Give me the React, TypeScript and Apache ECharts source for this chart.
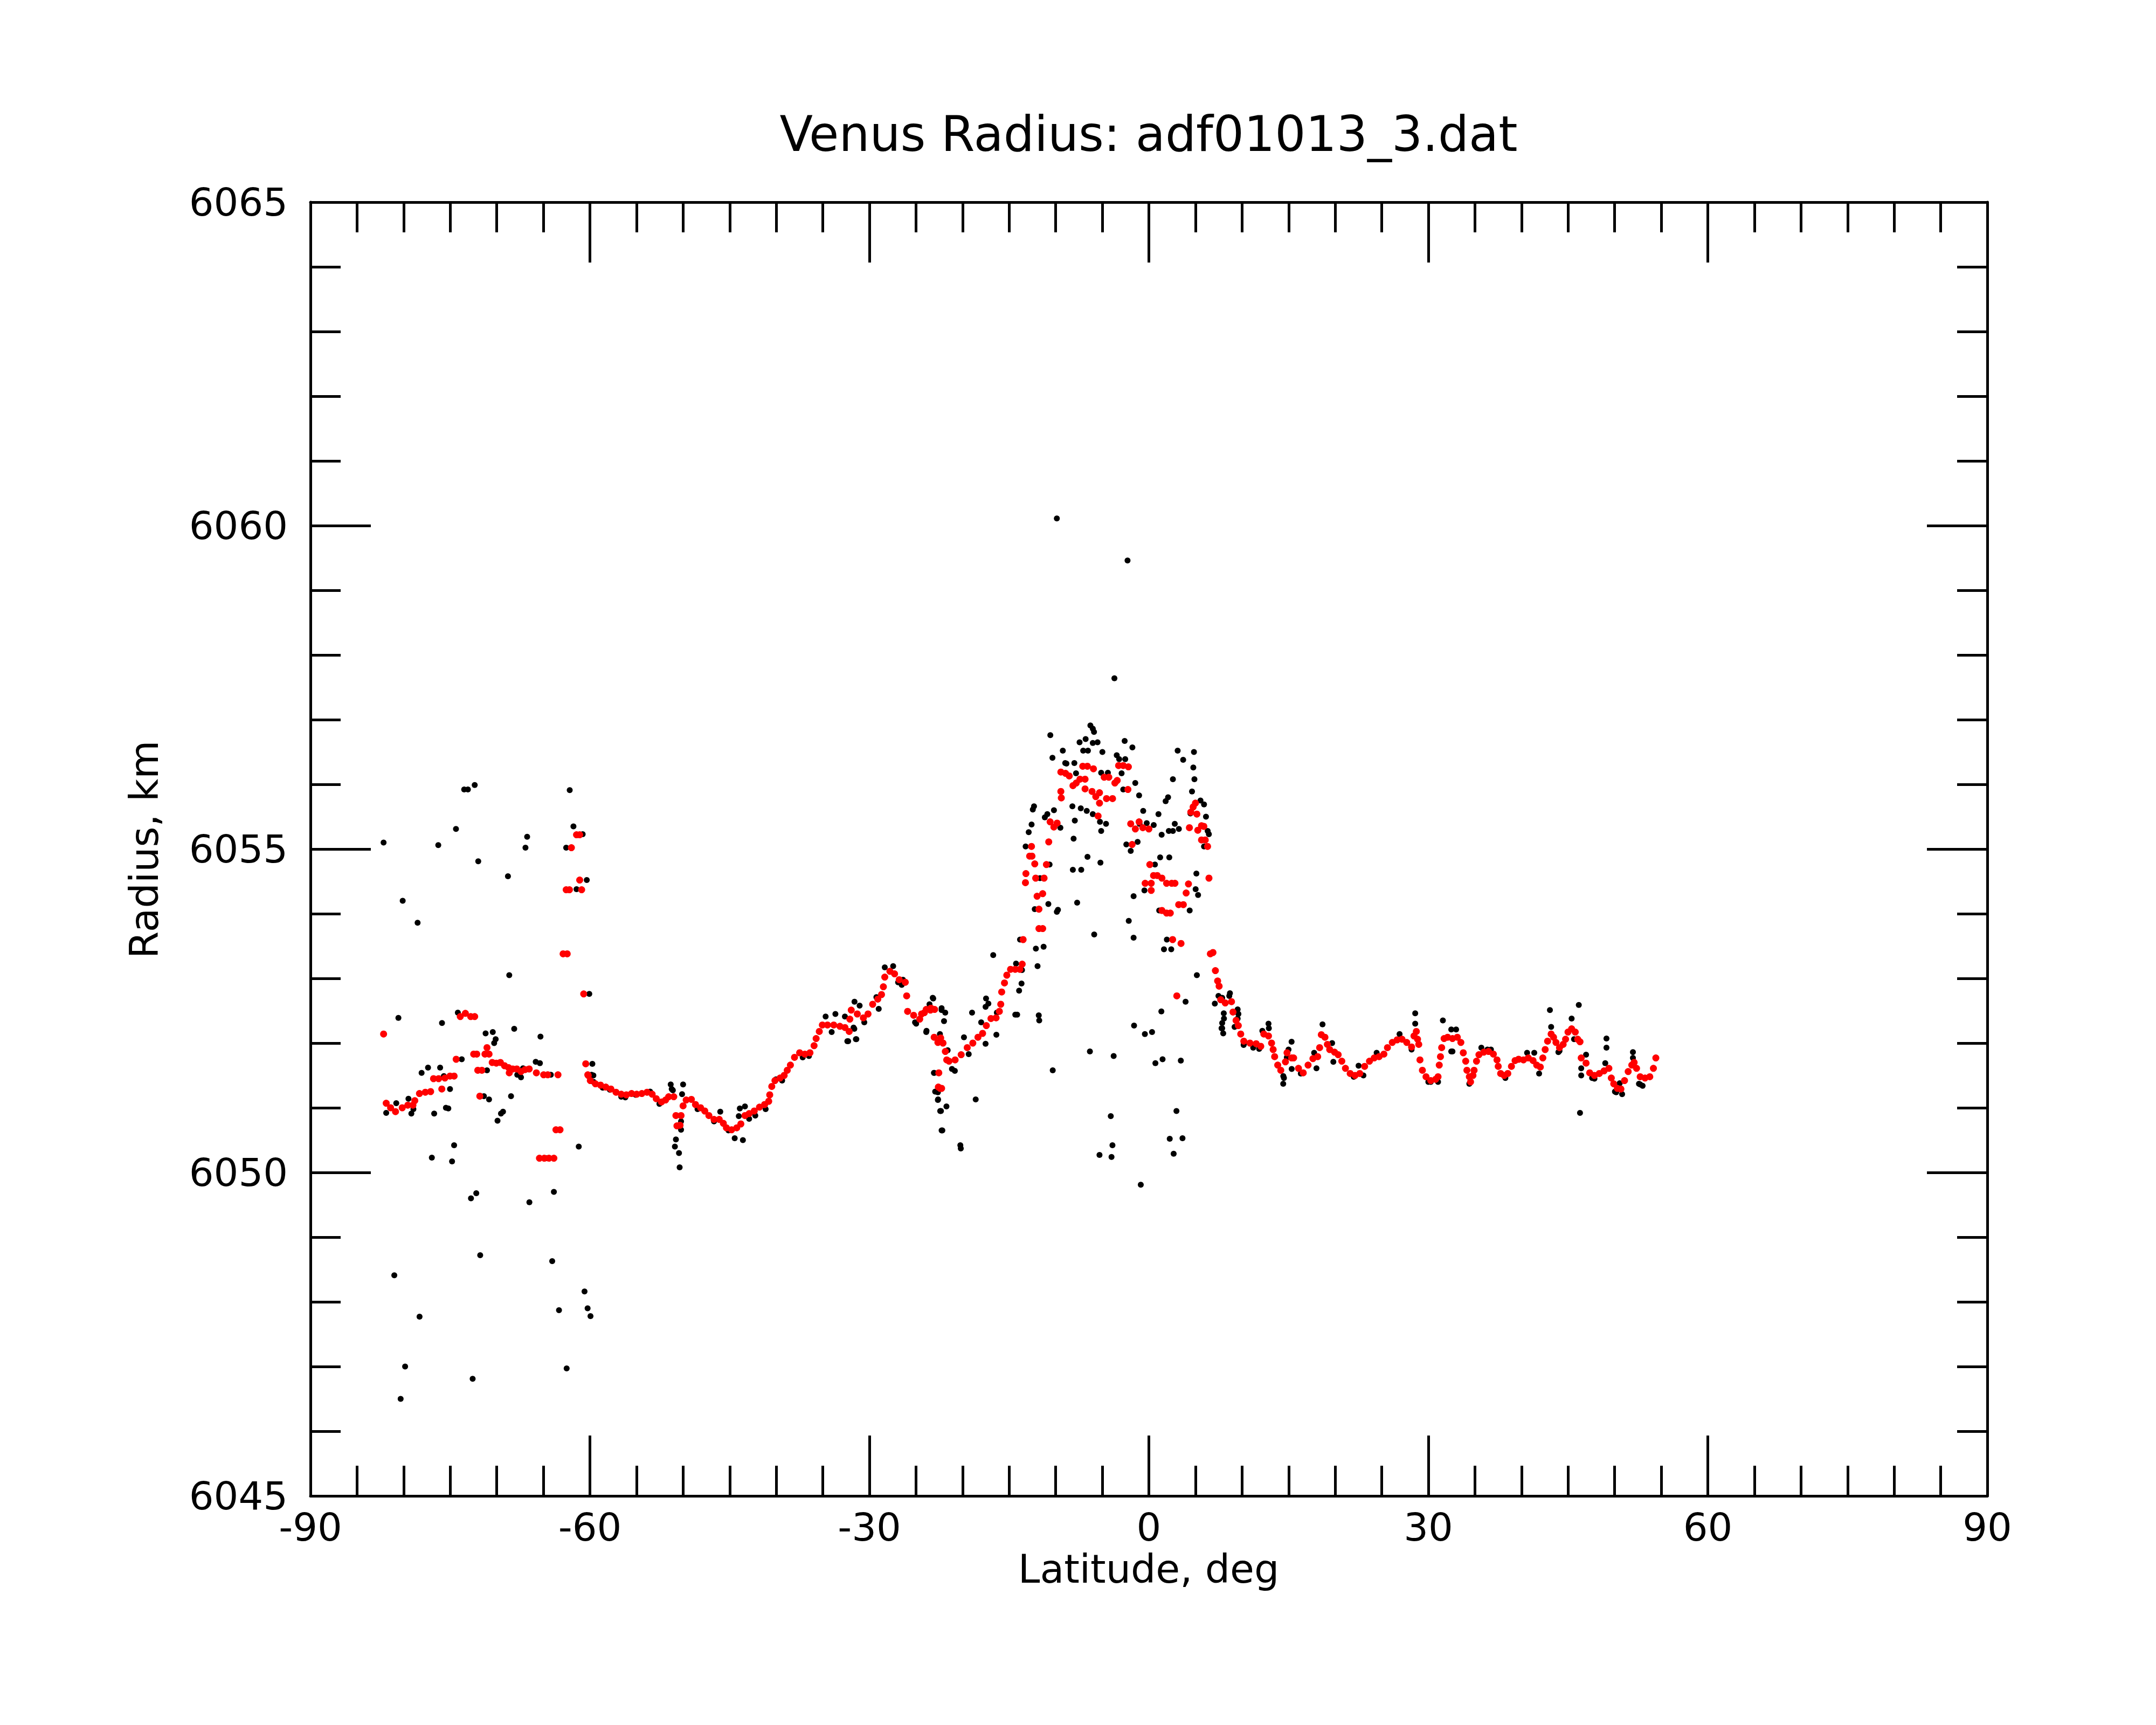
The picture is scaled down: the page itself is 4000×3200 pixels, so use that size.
import React, { useEffect, useRef } from "react";
import * as echarts from "echarts";

const chartTitle = "Venus Radius: adf01013_3.dat";
const xAxisName = "Latitude, deg";
const yAxisName = "Radius, km";
const latMin = -90, latMax = 90, latStep = 30, latMinorSplit = 6;
const radMin = 6045, radMax = 6065, radStep = 5, radMinorSplit = 5;

// red (smoothed) points: [latitude, radius]
const redSouth: number[][] = [
  [-82.15,6052.14],[-81.87,6051.07],[-81.4,6051.0],[-80.87,6050.94],[-80.15,6051.0],[-79.55,6051.04],[-79.0,6051.04],[-78.8,6051.11],[-78.3,6051.22],[-77.67,6051.24],[-77.1,6051.25],[-76.79,6051.45],[-76.24,6051.45],[-75.9,6051.29],[-75.57,6051.46],[-75.02,6051.49],[-74.58,6051.49],[-74.36,6051.75],[-73.92,6052.41],[-73.37,6052.46],[-72.8,6052.41],[-72.37,6052.41],[-72.48,6051.83],[-72.15,6051.83],[-72.04,6051.58],[-71.6,6051.58],[-71.82,6051.18],[-71.27,6051.83],[-70.83,6051.83],[-71.05,6051.93],[-70.49,6051.7],[-70.05,6051.69],[-69.61,6051.7],[-69.17,6051.65],[-68.73,6051.62],[-68.29,6051.6],[-67.85,6051.6],[-67.4,6051.56],[-66.96,6051.59],[-66.52,6051.6],[-68.66,6051.54],[-65.75,6051.54],[-64.97,6051.51],[-64.53,6051.51],[-63.43,6051.51],[-65.42,6050.22],[-64.9,6050.22],[-64.4,6050.22],[-63.87,6050.22],[-63.65,6050.66],[-63.21,6050.66],[-62.88,6053.38],[-62.44,6053.38],[-62.55,6054.37],[-62.2,6054.37],[-60.89,6054.37],[-61.1,6054.52],[-61.44,6055.22],[-61.1,6055.22],[-61.99,6055.02],[-60.67,6052.76],[-60.45,6051.68],[-60.23,6051.51]
];
const redMid: number[][] = [
  [-60.18,6051.5],[-59.96,6051.42],[-59.41,6051.37],[-58.86,6051.35],[-58.3,6051.32],[-57.75,6051.29],[-57.2,6051.24],[-56.64,6051.21],[-56.09,6051.2],[-55.53,6051.22],[-54.98,6051.21],[-54.43,6051.22],[-53.87,6051.24],[-53.32,6051.21],[-52.88,6051.14],[-52.32,6051.09],[-51.88,6051.12],[-51.55,6051.17],[-51.0,6051.17],[-50.77,6050.88],[-50.22,6050.88],[-50.66,6050.72],[-50.33,6050.73],[-50.0,6051.03],[-49.67,6051.12],[-49.11,6051.13],[-48.67,6051.05],[-48.12,6051.0],[-47.67,6050.95],[-47.23,6050.88],[-46.68,6050.82],[-46.12,6050.82],[-45.68,6050.76],[-45.35,6050.69],[-44.79,6050.66],[-44.24,6050.69],[-43.8,6050.75],[-43.36,6050.88],[-42.91,6050.91],[-42.36,6050.95],[-41.8,6051.01],[-41.25,6051.05],[-40.81,6051.1],[-40.7,6051.2],[-40.48,6051.33],[-40.14,6051.42],[-39.59,6051.46],[-39.15,6051.5],[-38.82,6051.58],[-38.48,6051.66],[-38.04,6051.78],[-37.49,6051.85],[-36.93,6051.83],[-36.38,6051.85],[-35.94,6051.96],[-35.72,6052.07],[-35.38,6052.18],[-35.05,6052.28],[-34.5,6052.28],[-33.83,6052.28],[-33.17,6052.26],[-32.62,6052.24],[-32.17,6052.18],
  [-32.1,6052.37],[-31.95,6052.51],[-31.3,6052.45],[-30.65,6052.39],[-30.15,6052.45],[-29.65,6052.6],[-29.1,6052.68],[-28.7,6052.75],[-28.5,6052.87],[-28.35,6053.02],[-27.8,6053.11],[-27.3,6053.07],[-26.8,6052.98],[-26.15,6052.94],[-26.0,6052.73],[-25.9,6052.49],[-25.25,6052.43],[-24.6,6052.37],[-24.1,6052.47],[-23.45,6052.51],[-23.05,6052.09],[-22.65,6052.01],[-22.55,6051.54],[-22.4,6051.3],
  [-24.4,6052.45],[-23.9,6052.52],[-23.4,6052.54],[-23.0,6052.52],[-22.35,6052.08],[-22.1,6052.0],[-22.6,6051.32],[-22.25,6051.3],[-21.85,6051.87],[-21.7,6051.74],[-21.45,6051.72],[-20.8,6051.74],[-20.15,6051.82],[-19.5,6051.93],[-18.9,6052.0],[-18.35,6052.09],[-17.85,6052.15],[-17.45,6052.27],[-16.95,6052.38],[-16.4,6052.39],[-16.05,6052.49],[-15.9,6052.6],[-15.8,6052.79],[-15.5,6052.93],[-15.25,6053.05],[-14.85,6053.14],[-14.35,6053.14],[-13.85,6053.14],[-13.6,6053.22]
];
const redEquator: number[][] = [
  [-13.5,6053.6],[-12.8,6054.89],[-12.55,6054.89],[-12.6,6055.04],[-13.2,6054.62],[-13.25,6054.48],[-12.25,6054.77],[-12.15,6054.55],[-11.25,6054.55],[-12.0,6054.27],[-11.4,6054.31],[-11.8,6054.07],[-11.8,6053.77],[-11.4,6053.77],[-11.0,6054.76],[-10.75,6055.11],[-10.6,6055.42],[-10.2,6055.34],[-9.85,6055.4],[-9.45,6055.89],[-9.4,6055.79],[-9.45,6056.19],[-8.95,6056.17],[-8.55,6056.13],[-8.15,6055.98],[-7.8,6056.02],[-7.4,6056.08],[-6.85,6056.08],[-7.1,6056.28],[-6.6,6056.28],[-5.95,6056.24],[-6.85,6055.93],[-6.1,6055.89],[-5.3,6055.87],[-5.7,6055.81],[-5.3,6055.71],[-4.8,6056.11],[-4.3,6056.11],[-4.55,6055.78],[-3.9,6055.78],[-3.65,6056.02],[-3.4,6056.06],[-3.25,6056.29],[-2.75,6056.29],[-2.2,6056.27],[-5.45,6055.51],[-2.25,6055.92],[-1.95,6055.39],[-1.45,6055.31],[-1.05,6055.42],[-0.65,6055.33],[0.0,6055.31],[-1.8,6055.07],[0.1,6054.76],[-0.4,6054.47],[0.25,6054.47],[0.5,6054.59],[0.9,6054.59],[1.4,6054.55],[1.9,6054.47],[2.45,6054.47],[2.8,6054.47],[0.25,6054.36],[1.4,6054.05],[1.9,6054.01],[2.3,6054.01],[3.2,6054.14],[3.7,6054.14],[4.0,6054.32],[4.25,6054.46],[2.55,6053.6],[3.45,6053.54],[3.0,6052.73],[4.35,6055.33],[4.5,6055.57],[4.75,6055.65],[5.0,6055.71],[5.15,6055.54],[5.25,6055.29],[5.65,6055.36],[5.9,6055.35],[5.65,6055.14],[6.05,6055.14],[6.3,6055.04],[6.45,6054.55],[6.6,6053.38]
];
const redNorth: number[][] = [
  [6.88,6053.4],[7.14,6053.12],[7.38,6052.96],[7.54,6052.88],[7.71,6052.67],[8.2,6052.62],[8.87,6052.64],[9.03,6052.48],[9.36,6052.35],[9.6,6052.27],[9.86,6052.14],[10.19,6052.03],[10.85,6052.0],[11.52,6051.99],[12.01,6051.95],[12.34,6052.14],[12.84,6052.11],[13.17,6052.0],[13.34,6051.9],[13.5,6051.79],[13.83,6051.66],[14.16,6051.58],[14.66,6051.71],[14.83,6051.85],[15.32,6051.77],
  [15.54,6051.77],[16.06,6051.61],[16.57,6051.54],[17.09,6051.66],[17.61,6051.76],[18.12,6051.79],[18.33,6051.93],[18.51,6052.13],[18.9,6052.09],[19.16,6051.98],[19.41,6051.9],[19.93,6051.86],[20.32,6051.82],[20.71,6051.72],[21.1,6051.61],[21.61,6051.53],[22.13,6051.5],[22.64,6051.53],[23.16,6051.64],[23.68,6051.72],[24.19,6051.77],[24.71,6051.79],[25.23,6051.83],[25.61,6051.93],[26.13,6052.01],[26.65,6052.05],[27.17,6052.06],[27.68,6052.01],[28.2,6051.94],[28.46,6052.11],[28.71,6052.18],[28.84,6052.06],[28.97,6051.98],
  [29.1,6051.74],[29.36,6051.58],[29.75,6051.48],[30.26,6051.42],[30.78,6051.44],[31.04,6051.48],[31.17,6051.66],[31.3,6051.79],[31.43,6051.93],[31.69,6052.07],[32.07,6052.09],[32.59,6052.07],[33.11,6052.09],[33.49,6052.01],
  [33.75,6051.85],[34.01,6051.72],[34.14,6051.58],[34.4,6051.48],[34.53,6051.4],[34.79,6051.5],[34.91,6051.58],[35.17,6051.72],[35.43,6051.82],[35.95,6051.86],[36.46,6051.87],[36.98,6051.83],[37.37,6051.74],[37.5,6051.64],[37.76,6051.53],[38.14,6051.5],[38.53,6051.53],[38.92,6051.64],[39.31,6051.73],[39.69,6051.75],[40.21,6051.74],[40.73,6051.77],[41.24,6051.73],[41.63,6051.66],[42.02,6051.63],[42.29,6051.77],[42.54,6051.9],[42.8,6052.03],[43.18,6052.14],[43.44,6052.09],[43.7,6052.01],[44.08,6051.93],[44.47,6051.98],[44.73,6052.06],[44.99,6052.17],[45.38,6052.22],[45.77,6052.17],[46.03,6052.06],[46.28,6052.02],
  [46.41,6051.77],[46.93,6051.69],[47.32,6051.54],[47.83,6051.5],[48.35,6051.53],[48.86,6051.57],[49.38,6051.61],[49.64,6051.46],[49.9,6051.37],[50.29,6051.3],[50.67,6051.29],[51.06,6051.42],[51.45,6051.56],[51.84,6051.66],[52.09,6051.7],[52.35,6051.61],[52.74,6051.48],[53.26,6051.46],[53.77,6051.48],[54.16,6051.61],[54.42,6051.77]
];

// black (raw) points: [latitude, radius]
const blackSouth: number[][] = [
  [-82.15,6055.1],[-80.1,6054.2],[-78.5,6053.86],[-76.28,6055.06],[-74.38,6055.31],[-73.5,6055.92],[-73.1,6055.92],[-72.37,6055.99],[-71.99,6054.81],[-68.8,6054.58],[-66.92,6055.02],[-66.74,6055.19],[-68.66,6053.05],[-62.17,6055.91],[-61.77,6055.35],[-60.78,6055.23],[-62.55,6055.02],[-61.44,6054.38],[-60.34,6054.52],[-60.07,6052.76],[-80.56,6052.39],[-75.88,6052.31],[-74.18,6052.47],[-68.13,6052.22],[-65.31,6052.1],[-71.2,6052.15],[-70.43,6052.17],[-70.12,6052.06],[-70.28,6052.0],[-73.76,6051.75],[-65.82,6051.71],[-65.37,6051.69],[-78.07,6051.54],[-77.38,6051.62],[-76.08,6051.62],[-75.68,6051.49],[-75.02,6051.29],[-71.05,6051.58],[-67.18,6051.61],[-67.8,6051.51],[-67.4,6051.47],[-64.2,6051.51],[-59.83,6051.51],[-59.61,6051.4],[-81.87,6050.92],[-80.79,6051.07],[-79.48,6051.14],[-79.17,6050.91],[-78.95,6050.98],[-76.72,6050.91],[-75.46,6051.0],[-75.2,6050.99],[-71.38,6051.18],[-70.83,6051.13],[-69.92,6050.8],[-69.55,6050.91],[-69.33,6050.94],[-68.47,6051.18],[-74.58,6050.42],[-76.97,6050.23],[-74.8,6050.17],[-61.2,6050.4],[-72.77,6049.6],[-72.2,6049.68],[-66.5,6049.54],[-63.87,6049.7],[-71.78,6048.72],[-64.05,6048.63],[-60.58,6048.16],[-63.32,6047.87],[-60.25,6047.9],[-59.94,6047.78],[-81.0,6048.41],[-78.29,6047.77],[-79.84,6047.0],[-72.59,6046.81],[-62.5,6046.97],[-80.32,6046.5],[-64.7,6050.22]
];
const blackMid: number[][] = [
  [-59.74,6051.68],[-59.63,6051.5],[-51.33,6051.36],[-51.22,6051.29],[-51.1,6051.27],[-50.0,6051.36],[-50.11,6051.21],[-50.22,6050.87],[-50.22,6050.79],[-50.22,6050.66],[-50.77,6050.51],[-50.88,6050.4],[-50.44,6050.3],[-50.37,6050.08],[-46.01,6050.94],[-43.91,6050.99],[-43.36,6051.02],[-44.02,6050.87],[-44.46,6050.53],[-43.58,6050.5],[-34.05,6052.17],[-32.28,6052.03],[-31.4,6052.06],[-31.62,6052.22],
  [-58.63,6051.31],[-57.86,6051.28],[-56.64,6051.17],[-56.2,6051.16],[-55.09,6051.2],[-53.54,6051.25],[-52.54,6051.06],[-48.45,6050.98],[-46.68,6050.79],[-45.13,6050.65],[-42.91,6050.83],[-42.25,6050.88],[-41.14,6050.98],[-40.03,6051.44],[-39.37,6051.42],[-37.16,6051.78],[-36.49,6051.8],
  [-34.7,6052.41],[-33.65,6052.45],[-32.63,6052.41],[-32.37,6052.03],[-31.6,6052.64],[-31.7,6052.24],[-31.45,6052.06],[-31.05,6052.58],[-30.55,6052.32],[-29.0,6052.53],[-29.25,6052.71],[-28.35,6053.17],[-27.45,6053.19],[-26.4,6052.98],[-25.1,6052.32],[-23.9,6052.17],[-23.55,6052.6],[-23.15,6052.69],[-23.05,6051.54],[-22.65,6051.24],[-22.65,6051.12],[-22.4,6050.95],[-22.25,6050.65],[-22.25,6052.51],
  [-26.92,6052.94],[-26.53,6052.9],[-24.98,6052.3],
  [-23.2,6052.7],[-22.25,6052.54],[-21.86,6052.47],[-21.99,6052.34],[-23.87,6052.19],[-22.43,6052.14],[-21.6,6051.89],[-23.07,6051.54],[-22.94,6051.25],[-22.63,6051.13],[-22.32,6050.95],[-21.73,6051.02],[-22.17,6050.65],[-20.24,6050.42],[-20.19,6050.37],[-21.14,6051.6],[-20.83,6051.57],[-19.85,6052.09],[-19.34,6051.83],[-18.59,6051.13],[-18.98,6052.47],[-17.48,6052.69],[-17.23,6052.61],[-17.53,6052.56],[-18.0,6052.32],[-17.53,6051.99],[-16.37,6052.13],[-16.32,6052.47],[-14.34,6052.44]
];
const blackEquator: number[][] = [
  [-9.88,6060.11],[-2.29,6059.46],[-3.7,6057.64],
  [-10.58,6056.76],[-10.35,6056.41],[-9.24,6056.52],[-8.98,6056.33],[-8.85,6056.32],[-8.0,6056.33],[-7.82,6056.17],[-7.44,6056.65],[-6.79,6056.7],[-7.05,6056.52],[-6.54,6056.52],[-6.28,6056.91],[-6.02,6056.86],[-5.89,6056.81],[-6.02,6056.64],[-5.51,6056.65],[-4.99,6056.5],[-5.12,6056.18],[-4.4,6056.18],[-3.45,6056.45],[-3.19,6056.39],[-2.54,6056.39],[-2.6,6056.67],[-1.77,6056.57],[-2.93,6056.17],[-2.75,6055.92],[-1.46,6056.02],[-1.05,6055.83],[-8.21,6055.66],[-7.31,6055.63],[-6.67,6055.59],[-6.02,6055.54],[-7.95,6055.44],[-5.25,6055.42],[-4.6,6055.39],[-5.12,6055.28],[-10.19,6055.6],[-10.9,6055.54],[-11.17,6055.49],[-12.33,6055.66],[-12.46,6055.61],[-12.59,6055.38],[-12.9,6055.26],[-13.23,6055.04],[-9.5,6055.33],[-8.08,6055.16],[-6.59,6054.88],[-5.2,6054.79],[-7.26,6054.68],[-8.16,6054.68],[-10.66,6054.76],[-11.69,6054.55],[-10.79,6054.15],[-9.76,6054.06],[-9.88,6054.03],[-7.7,6054.17],[-12.25,6054.07],[-12.13,6053.46],[-11.3,6053.49],[-11.95,6053.19],[-13.83,6053.6],[-16.71,6053.36],[-14.26,6053.23],[-13.62,6053.13],[-13.93,6052.81],[-13.67,6052.92],[-14.14,6052.44],[-11.82,6052.43],[-11.77,6052.35],[-10.32,6051.58],[-5.87,6053.68],[-6.33,6051.87],[-3.78,6051.8],[-4.09,6050.87],[-3.91,6050.42],[-4.01,6050.24],[-5.3,6050.27],[-0.87,6049.81],[-1.59,6052.27],[-0.43,6052.14],[0.34,6052.17],[0.7,6051.69],[1.47,6051.75],[1.34,6052.49],[2.96,6050.95],[2.24,6050.52],[2.66,6050.29],[3.61,6050.53],[3.43,6051.73],[3.94,6052.64],[5.15,6053.05],[-1.64,6054.27],[-2.16,6053.89],[-1.64,6053.63],[-0.48,6054.36],[0.13,6054.76],[0.65,6054.76],[1.21,6054.87],[2.19,6054.87],[1.11,6054.05],[1.62,6053.45],[2.4,6053.45],[1.93,6053.6],[4.38,6054.05],[5.02,6054.38],[5.28,6054.29],[5.1,6054.62],[1.8,6055.74],[2.06,6055.8],[2.58,6056.08],[3.09,6056.52],[3.68,6056.38],[4.84,6056.5],[4.77,6056.26],[4.89,6056.08],[4.63,6055.89],[5.54,6055.75],[5.92,6055.69],[4.46,6055.55],[1.03,6055.54],[0.52,6055.37],[1.37,6055.22],[2.14,6055.28],[2.58,6055.28],[2.78,6055.39],[3.22,6055.31],[6.13,6055.5],[6.31,6055.28],[6.44,6055.23],[5.92,6055.04],[-1.0,6055.39],[-0.61,6055.59],[-0.23,6055.4],[-2.42,6055.07],[-1.95,6054.97],[-1.21,6055.11]
];
const blackNorth: number[][] = [
  [7.08,6052.61],[7.47,6052.73],[7.8,6052.23],[7.98,6052.15],[8.06,6052.38],[8.63,6052.73],[9.61,6052.45],[9.53,6052.38],[10.17,6051.97],[11.2,6051.93],[12.88,6052.23],[14.42,6051.37],[14.81,6051.78],[15.33,6051.6],
  [8.7,6052.77],[7.87,6052.7],[8.04,6052.46],[7.87,6052.31],[7.87,6052.23],[9.53,6052.52],[9.2,6052.25],[12.84,6052.3],[12.18,6052.19],[14.43,6051.49],[15.32,6052.02],[14.99,6051.9],[10.18,6051.98],[11.84,6051.91],[14.5,6051.46],
  [18.64,6052.29],[28.59,6052.46],[28.59,6052.3],[31.56,6052.35],[32.98,6052.21],[32.46,6051.87],[35.69,6051.93],[36.72,6051.9],[43.05,6052.51],[43.18,6052.25],[46.15,6052.59],[45.38,6052.38],[45.64,6052.06],[46.28,6050.92],[46.93,6051.82],[46.41,6051.61],[46.41,6051.5],[49.12,6052.07],[49.12,6051.93],[48.99,6051.69],[51.96,6051.86],[51.96,6051.77],[50.54,6051.38],[50.03,6051.25],[50.8,6051.21],[52.74,6051.36],[17.99,6051.61],[17.74,6051.85],[19.67,6052.0],[19.8,6051.71],[22.51,6051.65],[24.45,6051.85],[26.91,6052.14],[28.2,6051.9],[31.04,6051.4],[30.26,6051.4],[32.46,6052.21],[32.59,6051.87],[36.34,6051.9],[40.6,6051.85],[41.37,6051.85],[41.89,6051.53],[44.08,6051.88],[47.58,6051.46],[52.61,6051.37],
  [16.31,6051.53],[21.99,6051.48],[23.03,6051.5],[30.0,6051.4],[34.4,6051.37],[38.27,6051.46],[43.96,6051.86],[47.83,6051.45],[50.16,6051.24],[53.0,6051.34]
];

const FONT = "DejaVu Sans";

export default function App() {
  const ref = useRef<HTMLDivElement>(null);
  useEffect(() => {
    document.body.style.margin = "0";
    if (!ref.current) return;
    const chart = echarts.init(ref.current, null, { renderer: "svg" });
    const lineStyle = { color: "#000", width: 5 };
    const base = {
      type: "value" as const,
      axisLine: { show: true, onZero: false, lineStyle },
      axisTick: { show: true, inside: true, length: 112, lineStyle },
      minorTick: { show: true, length: 56, lineStyle },
      splitLine: { show: false },
      minorSplitLine: { show: false },
    };
    const plain = (v: number) => String(v);
    const xLabel = { fontSize: 72, fontFamily: FONT, color: "#000", margin: 22, showMinLabel: true, showMaxLabel: true, formatter: plain };
    const yLabel = { fontSize: 72, fontFamily: FONT, color: "#000", margin: 42, showMinLabel: true, showMaxLabel: true, formatter: plain };
    chart.setOption({
      animation: false,
      backgroundColor: "#fff",
      grid: { left: 576, top: 375, width: 3111, height: 2400, containLabel: false },
      xAxis: [
        { ...base, position: "bottom", min: latMin, max: latMax, interval: latStep, minorTick: { ...base.minorTick, splitNumber: latMinorSplit }, axisLabel: xLabel },
        { ...base, position: "top", min: latMin, max: latMax, interval: latStep, minorTick: { ...base.minorTick, splitNumber: latMinorSplit }, axisLabel: { show: false } },
      ],
      yAxis: [
        { ...base, position: "left", min: radMin, max: radMax, interval: radStep, minorTick: { ...base.minorTick, splitNumber: radMinorSplit }, axisLabel: yLabel },
        { ...base, position: "right", min: radMin, max: radMax, interval: radStep, minorTick: { ...base.minorTick, splitNumber: radMinorSplit }, axisLabel: { show: false } },
      ],
      graphic: [
        { type: "text", x: 2131, y: 248, style: { text: chartTitle, fontSize: 90, fontFamily: FONT, fill: "#000", align: "center", verticalAlign: "middle" } },
        { type: "text", x: 2131, y: 2910, style: { text: xAxisName, fontSize: 73, fontFamily: FONT, fill: "#000", align: "center", verticalAlign: "middle" } },
        { type: "text", x: 267, y: 1576, rotation: Math.PI / 2, style: { text: yAxisName, fontSize: 73, fontFamily: FONT, fill: "#000", align: "center", verticalAlign: "middle" } },
      ],
      series: [
        { type: "scatter", name: "raw", xAxisIndex: 0, yAxisIndex: 0, symbol: "circle", symbolSize: 11, itemStyle: { color: "#000", opacity: 1 }, data: [...blackSouth, ...blackMid, ...blackEquator, ...blackNorth] },
        { type: "scatter", name: "smoothed", xAxisIndex: 0, yAxisIndex: 0, symbol: "circle", symbolSize: 13, itemStyle: { color: "#ff0000", opacity: 1 }, data: [...redSouth, ...redMid, ...redEquator, ...redNorth] },
      ],
    });
    return () => chart.dispose();
  }, []);
  return <div ref={ref} style={{ width: 4000, height: 3200 }} />;
}
